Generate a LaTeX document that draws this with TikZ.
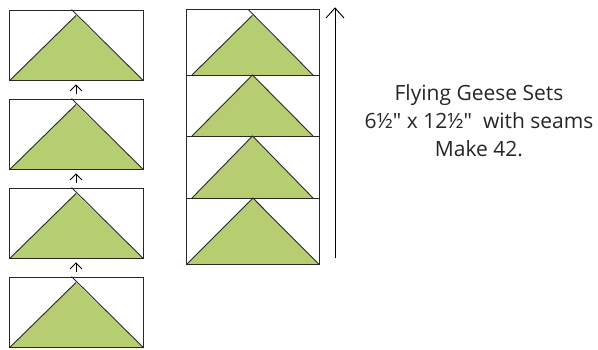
\documentclass[tikz,border=0pt]{standalone}
\usepackage{fontspec}
\setmainfont{Open Sans}[Ligatures=TeXOff]
\usetikzlibrary{arrows.meta}
\definecolor{geese}{RGB}{183,205,114}
\definecolor{edge}{RGB}{40,40,40}
\tikzset{
  block/.style={draw=edge, line width=0.9pt, rectangle, inner sep=0pt, anchor=north west},
  lside/.style={draw=edge, line width=0.9pt},
  upar/.style={draw=black, line width=0.8pt, -{Straight Barb[length=6pt,width=12pt,line width=0.8pt]}},
  bigar/.style={draw=black, line width=0.9pt, -{Straight Barb[length=10pt,width=18pt,line width=0.9pt]}}
}
\begin{document}
\begin{tikzpicture}[x=1pt,y=-1pt]
\useasboundingbox (0,0) rectangle (598,349);
% left column
\foreach \n/\t in {1/9.5,2/98.5,3/187.5,4/276.5}{
  \node[block, minimum width=133.5pt, minimum height=70.5pt] (L\n) at (9.3,\t) {};
  \coordinate (A\n) at (76,\t+6);
  \coordinate (T\n) at (71.5,\t);
  \fill[geese] (L\n.south west) -- (A\n) -- (L\n.south east) -- cycle;
  \draw[lside] (L\n.south west) -- (A\n);
  \draw[lside] (L\n.south east) -- (T\n);
  \draw[block] (L\n.south west) -- (L\n.south east);
}
\foreach \a/\b in {2/1,3/2,4/3}{
  \draw[upar, shorten <=5pt, shorten >=3.5pt] (L\a.north -| A\a) -- (L\b.south -| A\b);
}
% right column
\node[block, minimum width=132.5pt, minimum height=65.7pt] (R1) at (186.2,9.3) {};
\node[block, minimum width=132.5pt, minimum height=61pt] (R2) at (186.2,75) {};
\node[block, minimum width=132.5pt, minimum height=62pt] (R3) at (186.2,136) {};
\node[block, minimum width=132.5pt, minimum height=66pt] (R4) at (186.2,198) {};
\coordinate (P1) at (252.5,15.3);
\coordinate (Q1) at (248,9.3);
\fill[geese] (192,75) -- (P1) -- (313,75) -- cycle;
\draw[lside] (192,75) -- (P1);
\draw[lside] (313,75) -- (Q1);
\foreach \n/\t/\b in {2/75/136,3/136/198}{
  \fill[geese] (192,\b) -- (252.5,\t) -- (313,\b) -- cycle;
  \draw[lside] (192,\b) -- (252.5,\t) -- (313,\b);
}
\fill[geese] (R4.south west) -- (R4.north) -- (R4.south east) -- cycle;
\draw[lside] (R4.south west) -- (R4.north) -- (R4.south east);
\foreach \n in {1,2,3,4}{\draw[block] (R\n.south west) -- (R\n.south east);}
\draw[block] (R1.north west) rectangle (R4.south east);
\coordinate (B0) at (335,258);
\coordinate (B1) at (335,7.3);
\draw[bigar] (B0) -- (B1);
% text
\node[align=center, font=\fontsize{21}{28}\selectfont, text=black!85] (txt) at (479,120.5) {Flying Geese Sets\\6½" x 12½"~ with seams\\Make 42.};
\end{tikzpicture}
\end{document}
